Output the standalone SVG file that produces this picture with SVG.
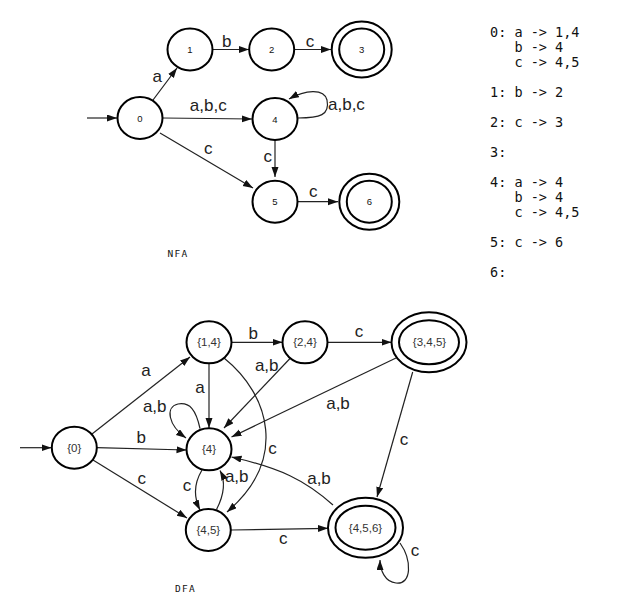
<svg xmlns="http://www.w3.org/2000/svg" width="625" height="616" viewBox="0 0 625 616">
<defs>
<marker id="arr" markerUnits="userSpaceOnUse" markerWidth="11" markerHeight="8" refX="10" refY="3.5" orient="auto">
<path d="M0,0 L10,3.5 L0,7 z" fill="#111"/>
</marker>
<style>
.n{fill:#fff;stroke:#000;stroke-width:2}
.e{fill:none;stroke:#222;stroke-width:1.2;marker-end:url(#arr)}
.l{font-family:"Liberation Sans",Arial,sans-serif;font-size:17px;fill:#222;text-anchor:middle}
.s{font-family:"Liberation Sans",Arial,sans-serif;font-size:9.5px;fill:#111;text-anchor:middle}
.d{font-family:"Liberation Sans",Arial,sans-serif;font-size:11.5px;fill:#333;text-anchor:middle}
.m{font-family:"DejaVu Sans Mono",monospace;font-size:13.5px;fill:#111}
.t{font-family:"DejaVu Sans Mono",monospace;font-size:9.5px;fill:#111;letter-spacing:1.3px}
</style>
</defs>
<rect width="625" height="616" fill="#fff"/>

<g id="connectors">
<path class="e" d="M87,118 L117,118"/>
<path class="e" d="M153,100 L177,68"/>
<path class="e" d="M213,49.5 L249,49.5"/>
<path class="e" d="M294,49.5 L331,49.5"/>
<path class="e" d="M163,118 L252,119"/>
<path class="e" d="M298,118 C320,118 330,115 327,100 C324,88 305,90 289,99"/>
<path class="e" d="M275,140 L275,177"/>
<path class="e" d="M160,133 L253,188"/>
<path class="e" d="M298,201.7 L338,201.7"/>

<path class="e" d="M20,447.7 L51.5,447.7"/>
<path class="e" d="M92,434 L190,357"/>
<path class="e" d="M231.5,342.3 L282.5,342.3"/>
<path class="e" d="M327.5,342.3 L391.5,342.3"/>
<path class="e" d="M209,363.3 L209,428"/>
<path class="e" d="M290,358.5 L224,428"/>
<path class="e" d="M396,358 L231.5,437"/>
<path class="e" d="M224,358 C270,395 288,460 227,512"/>
<path class="e" d="M200,428.5 C196,410 190,402 178,404 C165,407 168,425 186,438"/>
<path class="e" d="M96.7,447.7 L186.5,450"/>
<path class="e" d="M93,460 L187,518"/>
<path class="e" d="M202,470 C193,485 194,498 200,510"/>
<path class="e" d="M216.5,509.5 C224,495 226,482 220,470.5"/>
<path class="e" d="M231,530 L328,528.3"/>
<path class="e" d="M333,505 C305,480 280,468 231.5,457"/>
<path class="e" d="M412.7,372 L377,497"/>
<path class="e" d="M400,543 C412,560 412,585 396,583 C385,582 380,570 380,560"/>

<text class="l" x="157.3" y="82">a</text>
<text class="l" x="226.7" y="47">b</text>
<text class="l" x="310" y="47">c</text>
<text class="l" x="208.3" y="111">a,b,c</text>
<text class="l" x="328" y="110" style="text-anchor:start">a,b,c</text>
<text class="l" x="267.7" y="161.7">c</text>
<text class="l" x="208.3" y="154">c</text>
<text class="l" x="313.3" y="196.7">c</text>

<text class="l" x="146" y="375.7">a</text>
<text class="l" x="253.3" y="339.3">b</text>
<text class="l" x="359" y="336.7">c</text>
<text class="l" x="200" y="392.7">a</text>
<text class="l" x="266.7" y="371">a,b</text>
<text class="l" x="338" y="409">a,b</text>
<text class="l" x="154.7" y="412.3">a,b</text>
<text class="l" x="141.3" y="442.7">b</text>
<text class="l" x="272.5" y="454">c</text>
<text class="l" x="141.7" y="484">c</text>
<text class="l" x="187" y="490.7">c</text>
<text class="l" x="236.7" y="481.7">a,b</text>
<text class="l" x="283.3" y="544">c</text>
<text class="l" x="319" y="484">a,b</text>
<text class="l" x="404" y="445">c</text>
<text class="l" x="415" y="556">c</text>
</g>

<g id="n0"><ellipse class="n" cx="140" cy="118" rx="22.5" ry="21"/><text class="s" x="140" y="121.5">0</text></g>
<g id="n1"><ellipse class="n" cx="190" cy="49.5" rx="22.5" ry="21"/><text class="s" x="190" y="53">1</text></g>
<g id="n2"><ellipse class="n" cx="271.7" cy="49.5" rx="22.5" ry="21"/><text class="s" x="271.7" y="53">2</text></g>
<g id="n3"><ellipse class="n" cx="361.7" cy="49.5" rx="30" ry="28"/><ellipse class="n" cx="361.7" cy="49.5" rx="22.5" ry="21"/><text class="s" x="361.7" y="53">3</text></g>
<g id="n4"><ellipse class="n" cx="275" cy="119" rx="22.5" ry="21"/><text class="s" x="275" y="122.5">4</text></g>
<g id="n5"><ellipse class="n" cx="275" cy="201.7" rx="22.5" ry="21"/><text class="s" x="275" y="205.2">5</text></g>
<g id="n6"><ellipse class="n" cx="369.3" cy="201.7" rx="30" ry="28"/><ellipse class="n" cx="369.3" cy="201.7" rx="22.5" ry="21"/><text class="s" x="369.3" y="205.2">6</text></g>

<g id="d0"><ellipse class="n" cx="74.3" cy="447.7" rx="22.5" ry="21"/><text class="d" x="74.3" y="451.7">{0}</text></g>
<g id="d14"><ellipse class="n" cx="209" cy="342.3" rx="22.5" ry="21"/><text class="d" x="209" y="346.3">{1,4}</text></g>
<g id="d24"><ellipse class="n" cx="305" cy="342.3" rx="22.5" ry="21"/><text class="d" x="305" y="346.3">{2,4}</text></g>
<g id="d345"><ellipse class="n" cx="429" cy="342.3" rx="37.5" ry="30"/><ellipse class="n" cx="429" cy="342.3" rx="30" ry="22"/><text class="d" x="429.5" y="346.3">{3,4,5}</text></g>
<g id="d4"><ellipse class="n" cx="209" cy="449.3" rx="22.5" ry="21"/><text class="d" x="209" y="453.3">{4}</text></g>
<g id="d45"><ellipse class="n" cx="208.3" cy="530" rx="22.5" ry="21"/><text class="d" x="208.3" y="534">{4,5}</text></g>
<g id="d456"><ellipse class="n" cx="365.5" cy="527.7" rx="37.5" ry="30"/><ellipse class="n" cx="365.5" cy="527.7" rx="30" ry="22"/><text class="d" x="365.5" y="531.7">{4,5,6}</text></g>

<g id="captions">
<text class="t" x="167.5" y="257">NFA</text>
<text class="t" x="175" y="592">DFA</text>
</g>

<g id="table">
<text class="m" x="490" y="37">0: a -&gt; 1,4</text>
<text class="m" x="514.4" y="52">b -&gt; 4</text>
<text class="m" x="514.4" y="67">c -&gt; 4,5</text>
<text class="m" x="490" y="96.5">1: b -&gt; 2</text>
<text class="m" x="490" y="126.5">2: c -&gt; 3</text>
<text class="m" x="490" y="156.5">3:</text>
<text class="m" x="490" y="186.5">4: a -&gt; 4</text>
<text class="m" x="514.4" y="201.5">b -&gt; 4</text>
<text class="m" x="514.4" y="216.5">c -&gt; 4,5</text>
<text class="m" x="490" y="246.5">5: c -&gt; 6</text>
<text class="m" x="490" y="276.5">6:</text>
</g>
</svg>
